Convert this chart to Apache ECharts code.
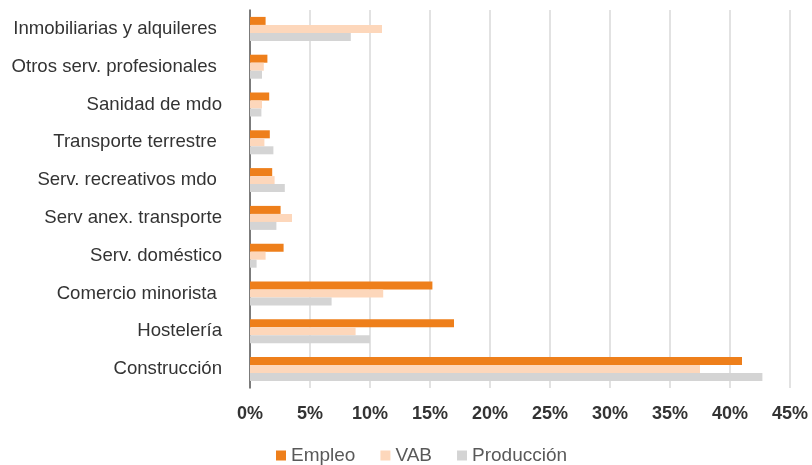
<!DOCTYPE html>
<html><head><meta charset="utf-8">
<script src="https://cdn.jsdelivr.net/npm/echarts@6/dist/echarts.min.js"></script>
<style>html,body{margin:0;padding:0;background:#fff}#c{width:812px;height:465px}</style>
</head><body><div id="c"></div>
<script>
const categories = ["Inmobiliarias y alquileres ", "Otros serv. profesionales ", "Sanidad de mdo", "Transporte terrestre ", "Serv. recreativos mdo ", "Serv anex. transporte", "Serv. doméstico", "Comercio minorista ", "Hostelería", "Construcción"];
const empleo = [1.3, 1.45, 1.6, 1.65, 1.85, 2.55, 2.8, 15.2, 17.0, 41.0];
const vab = [11.0, 1.15, 1.0, 1.2, 2.05, 3.5, 1.3, 11.1, 8.8, 37.5];
const produccion = [8.4, 1.0, 0.95, 1.95, 2.9, 2.2, 0.55, 6.8, 10.0, 42.7];
const xTicks = {min: 0, max: 45, interval: 5};

const font = '"Liberation Sans", Arial, Helvetica, sans-serif';
const chart = echarts.init(document.getElementById('c'));
chart.setOption({
  animation: false,
  grid: {left: 250, right: 22, top: 10, bottom: 77, containLabel: false},
  legend: {
    top: 441, left: 271, itemWidth: 10, itemHeight: 10, itemGap: 25,
    icon: 'rect',
    textStyle: {fontFamily: font, fontSize: 19, color: '#595959'},
    data: ['Empleo', 'VAB', 'Producción']
  },
  xAxis: {
    type: 'value', min: xTicks.min, max: xTicks.max, interval: xTicks.interval,
    axisLine: {show: false}, axisTick: {show: false},
    axisLabel: {formatter: '{value}%', fontFamily: font, fontSize: 18, fontWeight: 'bold', color: '#333', margin: 17},
    splitLine: {lineStyle: {color: '#d9d9d9', width: 1.5}}
  },
  yAxis: {
    type: 'category', data: categories, inverse: true,
    axisLine: {lineStyle: {color: '#595959', width: 1.5}},
    axisTick: {show: false},
    axisLabel: {fontFamily: font, fontSize: 18.6, color: '#333', margin: 28}
  },
  series: [
    {name: 'Empleo', type: 'bar', data: empleo, barWidth: 8, barGap: '0%', itemStyle: {color: '#EE7F1B'}},
    {name: 'VAB', type: 'bar', data: vab, barWidth: 8, barGap: '0%', itemStyle: {color: '#FDD7BB'}},
    {name: 'Producción', type: 'bar', data: produccion, barWidth: 8, barGap: '0%', itemStyle: {color: '#D4D4D4'}}
  ]
});
</script></body></html>
